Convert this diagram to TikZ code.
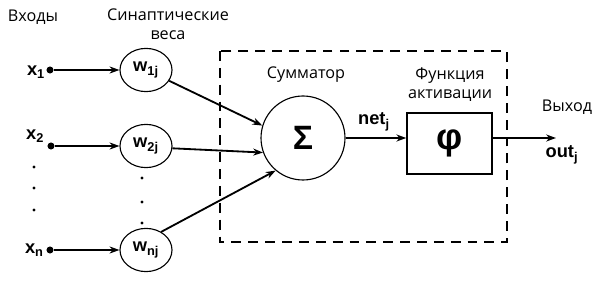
\documentclass[tikz,border=0pt]{standalone}
\usepackage{fontspec}
\setmainfont{Open Sans}
\newfontfamily\labelfont{Liberation Sans}
\usetikzlibrary{arrows.meta,positioning,shapes.geometric}

\begin{document}
\begin{tikzpicture}[
  wgt/.style={draw,ellipse,line width=0.8pt,minimum width=1.3cm,minimum height=1.08cm,inner sep=0pt,font=\labelfont\bfseries\fontsize{13}{14}\selectfont},
  txt/.style={font=\fontsize{11.5}{13.5}\selectfont,align=center},
  lbl/.style={font=\labelfont\bfseries\fontsize{13}{14}\selectfont},
  link/.style={line width=1.3pt,-{Stealth[length=7pt,width=5pt]}},
  pt/.style={circle,fill,inner sep=0pt,minimum size=5pt},
]
  \useasboundingbox (0,0) rectangle (15,-7.075);

  % inputs
  \node[pt] (in1) at (1.25,-1.75) {};
  \node[pt] (in2) at (1.275,-3.65) {};
  \node[pt] (inn) at (1.25,-6.25) {};
  \node[lbl] (x1) at (0.9,-1.8) {x\textsubscript{1}};
  \node[lbl] (x2) at (0.88,-3.4) {x\textsubscript{2}};
  \node[lbl] (xn) at (0.86,-6.25) {x\textsubscript{n}};

  % synaptic weights
  \node[wgt] (w1) at (3.65,-1.75) {w\textsubscript{1j}};
  \node[wgt] (w2) at (3.65,-3.65) {w\textsubscript{2j}};
  \node[wgt] (wn) at (3.65,-6.25) {w\textsubscript{nj}};

  \foreach \y in {-4.175,-4.7,-5.25}
    \fill (0.85,\y) circle (1.1pt);
  \foreach \y in {-4.45,-5.05,-5.575}
    \fill (3.55,\y) circle (1.1pt);

  \draw[link] (in1) -- (w1);
  \draw[link] (in2) -- (w2);
  \draw[link] (inn) -- (wn);

  % neuron
  \draw[line width=1.2pt,dash pattern=on 7pt off 5pt] (5.5,-1.275) rectangle (12.675,-6.05);
  \node[draw,circle,line width=0.8pt,minimum size=2.1cm,inner sep=0pt,font=\labelfont\bfseries\fontsize{24}{26}\selectfont] (sig) at (7.575,-3.45) {Σ};
  \node[draw,rectangle,line width=1.2pt,minimum width=2.125cm,minimum height=1.525cm,font=\labelfont\bfseries\fontsize{26}{28}\selectfont] (phi) at (11.24,-3.59) {φ};
  \coordinate (out) at (13.9,-3.45);

  \draw[link] (w1.-25) -- (sig.163);
  \draw[link] (w2.-5) -- (sig.200);
  \draw[link] (wn.50) -- (sig.230);
  \draw[link] (sig.east) -- (sig.east -| phi.west);
  \draw[link] (phi.east |- sig.east) -- (out);

  % captions
  \node[txt] (tin) at (0.825,-0.425) {Входы};
  \node[txt] (tw) at (4.2,-0.61) {Синаптические\\веса};
  \node[txt] (tsum) at (7.65,-1.875) {Сумматор};
  \node[txt] (tact) at (11.25,-2.125) {Функция\\активации};
  \node[txt] (tout) at (14.175,-2.675) {Выход};
  \node[lbl] (net) at (9.35,-3.05) {net\textsubscript{j}};
  \node[lbl] (outj) at (14.05,-3.875) {out\textsubscript{j}};
\end{tikzpicture}
\end{document}
